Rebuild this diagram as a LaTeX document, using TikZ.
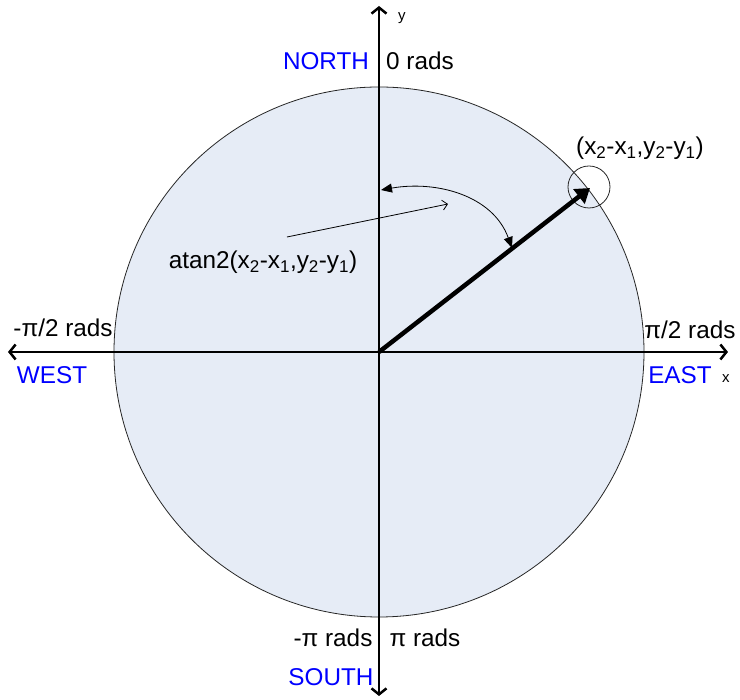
\documentclass[tikz,border=0pt]{standalone}
\usepackage{fontspec}
\setmainfont{Liberation Sans}
\usepackage{tikz}
\usetikzlibrary{arrows.meta}
\usepackage{xcolor}
\definecolor{discfill}{RGB}{230,236,246}
\definecolor{compass}{RGB}{0,0,255}

\begin{document}
\begin{tikzpicture}[x=1pt,y=1pt,
    lbl/.style={font=\fontsize{24.3}{29}\selectfont,inner sep=0pt},
    dirlbl/.style={lbl,text=compass},
    axlbl/.style={font=\fontsize{15}{18}\selectfont,inner sep=0pt}]

    % Bingkai gambar
    \useasboundingbox (-379,-348) rectangle (361,352);

    % Lingkaran besar
    \filldraw[draw=black!85,fill=discfill,line width=0.8pt] (0,0) circle (265);

    % Titik-titik ujung sumbu dan vektor
    \coordinate (O) at (0,0);
    \coordinate (west) at (-371,0);
    \coordinate (east) at (349,0);
    \coordinate (south) at (0,-344);
    \coordinate (north) at (0,346);
    \coordinate (tip) at (211,164);

    % Lingkaran kecil di ujung vektor
    \draw[black!85,line width=0.8pt] (210,165) circle (21);

    % Busur sudut atan2
    \coordinate (arcA) at (133,104);
    \coordinate (arcB) at (2,162);
    \draw[line width=0.8pt,{Triangle[length=11pt,width=9pt]}-{Triangle[length=11pt,width=9pt]}]
        (arcB) to[out=10,in=110] (arcA);

    % Panah keterangan
    \coordinate (noteS) at (-92,115);
    \coordinate (noteE) at (69,148);
    \draw[line width=0.8pt,-{Straight Barb[length=5pt,width=10pt]}] (noteS) -- (noteE);

    % Sumbu x dan y dengan panah di kedua ujung
    \draw[line width=2.5pt,{Straight Barb[length=6pt,width=15pt]}-{Straight Barb[length=6pt,width=15pt]}] (west) -- (east);
    \draw[line width=2.5pt,{Straight Barb[length=6pt,width=15pt]}-{Straight Barb[length=6pt,width=15pt]}] (south) -- (north);

    % Vektor (x2-x1, y2-y1)
    \draw[line width=4.5pt,-{Triangle[length=14pt,width=18pt]}] (O) -- (tip);

    % Label sumbu
    \node[axlbl] (ylbl) at (23,334) {y};
    \node[axlbl] (xlbl) at (347,-27) {x};

    % Label arah mata angin
    \node[dirlbl] (northlbl) at (-53,291) {NORTH};
    \node[dirlbl] (westlbl) at (-327,-23) {WEST};
    \node[dirlbl] (eastlbl) at (301,-23) {EAST};
    \node[dirlbl] (southlbl) at (-48,-325) {SOUTH};

    % Label sudut dalam radian
    \node[lbl] (zero) at (41,291) {0 rads};
    \node[lbl] (mhalf) at (-316,24) {-π/2 rads};
    \node[lbl] (phalf) at (311,22) {π/2 rads};
    \node[lbl] (mpi) at (-46,-286) {-π rads};
    \node[lbl] (ppi) at (46,-286) {π rads};

    % Label vektor dan fungsi
    \node[lbl] (tiplbl) at (261,204) {(x\textsubscript{2}-x\textsubscript{1},y\textsubscript{2}-y\textsubscript{1})};
    \node[lbl] (atanlbl) at (-116,90) {atan2(x\textsubscript{2}-x\textsubscript{1},y\textsubscript{2}-y\textsubscript{1})};

\end{tikzpicture}
\end{document}
